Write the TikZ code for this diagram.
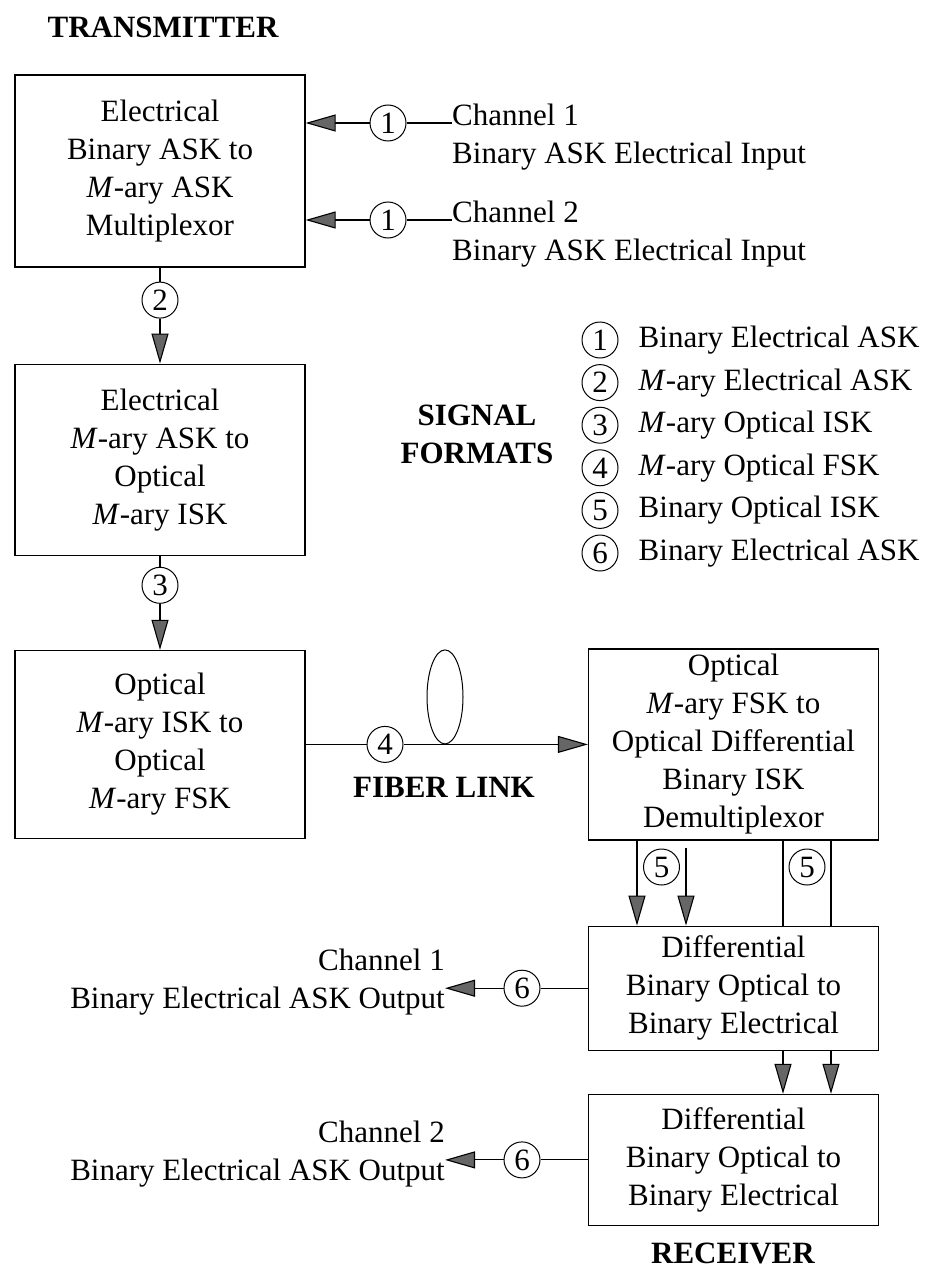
\documentclass[tikz,border=0pt]{standalone}
\usepackage{fontspec}
\setmainfont{Liberation Serif}
\usetikzlibrary{arrows.meta,positioning,shapes.geometric}

\newcommand\txtsize{\fontsize{31}{38}\selectfont}

\begin{document}
\begin{tikzpicture}[x=1pt, y=-1pt,
    block/.style={draw, line width=1.2pt, minimum width=290pt, align=center,
      inner sep=0pt, font=\txtsize},
    tag/.style={circle, draw, line width=1pt, inner sep=0pt, minimum size=36pt,
      font=\fontsize{31}{32}\selectfont},
    lbl/.style={inner sep=0pt, font=\txtsize},
    head/.style={inner sep=0pt, align=center, font=\txtsize\bfseries},
    wire/.style={line width=1.1pt},
    arr/.style={wire, -{Triangle[length=30pt, width=17pt, fill=black!60]}}]
  \useasboundingbox (0,0) rectangle (932,1271);

  % transmitter column
  \node[head] (tx) at (163,27) {TRANSMITTER};
  \node[block, minimum height=192pt] (mux) at (160,171)
    {Electrical\\Binary ASK to\\\textit{M}-ary ASK\\Multiplexor};
  \node[block, minimum height=191pt, below=96pt of mux] (e2o)
    {Electrical\\\textit{M}-ary ASK to\\Optical\\\textit{M}-ary ISK};
  \node[block, minimum height=188pt, below=94pt of e2o] (i2f)
    {Optical\\\textit{M}-ary ISK to\\Optical\\\textit{M}-ary FSK};
  \node[tag, below=14pt of mux] (s2) {2};
  \node[tag, below=11pt of e2o] (s3) {3};
  \draw[wire] (mux) -- (s2);
  \draw[arr] (s2) -- (e2o);
  \draw[wire] (e2o) -- (s3);
  \draw[arr] (s3) -- (i2f);

  % channel inputs
  \node[tag] (s1a) at (388,123) {1};
  \node[tag] (s1b) at (388,220) {1};
  \node[lbl, align=left, anchor=west] (in1) at (452,137)
    {Channel 1\\Binary ASK Electrical Input};
  \node[lbl, align=left, anchor=west] (in2) at (452,234)
    {Channel 2\\Binary ASK Electrical Input};
  \draw[arr] (s1a) -- (s1a -| mux.east);
  \draw[arr] (s1b) -- (s1b -| mux.east);
  \draw[wire] (s1a) -- (s1a -| in1.west);
  \draw[wire] (s1b) -- (s1b -| in2.west);

  % legend
  \node[head] (sf) at (477,434) {SIGNAL\\FORMATS};
  \node[tag] (f1) at (600,340) {1};
  \node[tag, below=5.6pt of f1] (f2) {2};
  \node[tag, below=5.6pt of f2] (f3) {3};
  \node[tag, below=5.6pt of f3] (f4) {4};
  \node[tag, below=5.6pt of f4] (f5) {5};
  \node[tag, below=5.6pt of f5] (f6) {6};
  \node[lbl, right=20pt of f1] (t1) {Binary Electrical ASK};
  \node[lbl, right=20pt of f2] (t2) {\textit{M}-ary Electrical ASK};
  \node[lbl, right=20pt of f3] (t3) {\textit{M}-ary Optical ISK};
  \node[lbl, right=20pt of f4] (t4) {\textit{M}-ary Optical FSK};
  \node[lbl, right=20pt of f5] (t5) {Binary Optical ISK};
  \node[lbl, right=20pt of f6] (t6) {Binary Electrical ASK};

  % fiber link
  \node[block, minimum height=191pt] (demux) at (733.5,744.5)
    {Optical\\\textit{M}-ary FSK to\\Optical Differential\\Binary ISK\\Demultiplexor};
  \node[tag] (s4) at (385,0 |- i2f) {4};
  \node[draw, ellipse, line width=1pt, minimum width=36pt, minimum height=94pt,
    inner sep=0pt, anchor=south] (coil) at (445,0 |- s4) {};
  \node[head] (fib) at (444,787) {FIBER LINK};
  \draw[wire] (i2f) -- (s4);
  \draw[arr] (s4) -- (s4 -| demux.west);

  % receiver column
  \node[block, minimum height=124pt, below=85pt of demux] (rx1)
    {Differential\\Binary Optical to\\Binary Electrical};
  \node[block, minimum height=131pt, below=43pt of rx1] (rx2)
    {Differential\\Binary Optical to\\Binary Electrical};
  \node[head] (rx) at (733,1253) {RECEIVER};
  \node[tag] (s5a) at (661.5,867) {5};
  \node[tag] (s5b) at (807,867) {5};
  \draw[arr] ([xshift=-96.5pt]demux.south) -- ([xshift=-96.5pt]rx1.north);
  \draw[arr] ([xshift=-47.5pt, yshift=-7pt]demux.south) -- ([xshift=-47.5pt]rx1.north);
  \draw[wire] ([xshift=49.5pt]demux.south) -- ([xshift=49.5pt]rx1.north);
  \draw[wire] ([xshift=97.5pt]demux.south) -- ([xshift=97.5pt]rx1.north);
  \draw[arr] ([xshift=49.5pt]rx1.south) -- ([xshift=49.5pt]rx2.north);
  \draw[arr] ([xshift=97.5pt]rx1.south) -- ([xshift=97.5pt]rx2.north);

  % channel outputs
  \node[tag] (s6a) at (522,0 |- rx1) {6};
  \node[tag] (s6b) at (522,0 |- rx2) {6};
  \node[lbl, align=right, anchor=east] (out1) at (445,982)
    {Channel 1\\Binary Electrical ASK Output};
  \node[lbl, align=right, anchor=east] (out2) at (445,1154)
    {Channel 2\\Binary Electrical ASK Output};
  \draw[wire] (rx1.west |- s6a) -- (s6a);
  \draw[wire] (rx2.west |- s6b) -- (s6b);
  \draw[arr] (s6a) -- (s6a -| out1.east);
  \draw[arr] (s6b) -- (s6b -| out2.east);
\end{tikzpicture}
\end{document}
